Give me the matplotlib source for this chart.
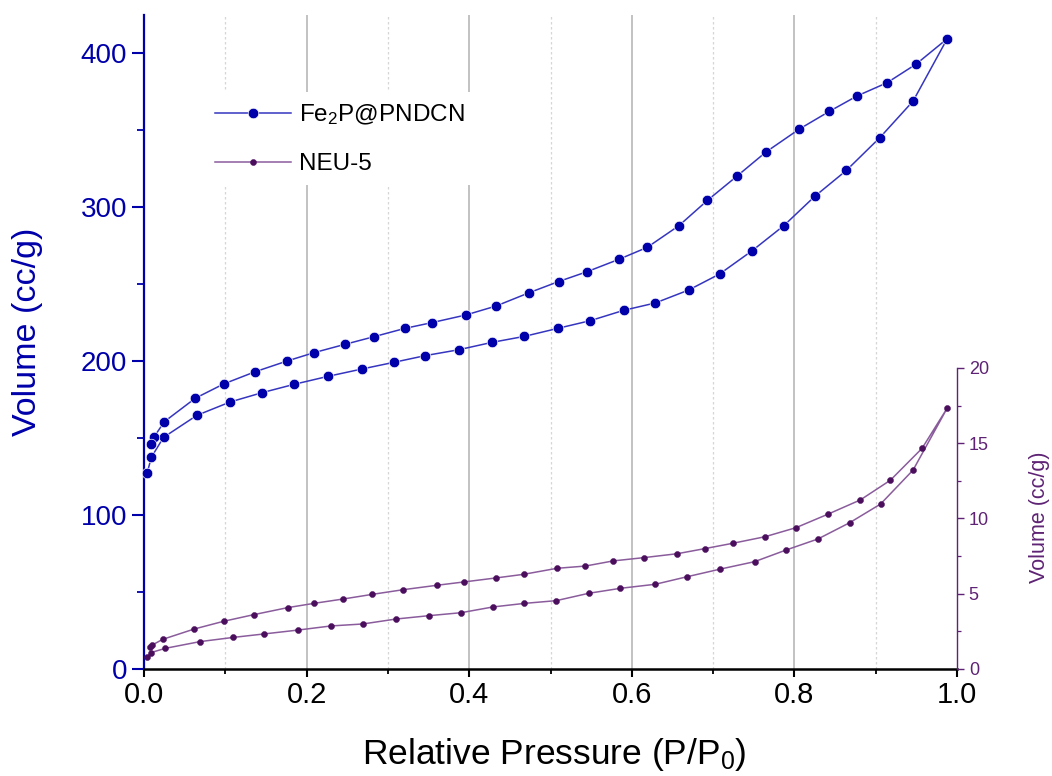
import matplotlib
matplotlib.use("Agg")
import matplotlib.pyplot as plt
from matplotlib.ticker import MultipleLocator, FixedLocator

plt.rcParams['font.family'] = ['Liberation Sans', 'DejaVu Sans']
plt.rcParams['mathtext.fontset'] = 'custom'
plt.rcParams['mathtext.rm'] = 'Liberation Sans'
plt.rcParams['mathtext.it'] = 'Liberation Sans:italic'
plt.rcParams['mathtext.default'] = 'regular'

# ---- data: Fe2P@PNDCN (left axis) ----
fe_ads_x = [0.004, 0.009, 0.024, 0.065, 0.106, 0.145, 0.185, 0.226, 0.268, 0.307,
            0.346, 0.387, 0.428, 0.468, 0.509, 0.549, 0.590, 0.629, 0.670, 0.708,
            0.748, 0.787, 0.825, 0.864, 0.905, 0.946, 0.988]
fe_ads_y = [127.5, 137.5, 150.4, 164.7, 173.4, 179.4, 184.9, 190.0, 194.8, 199.1,
            203.5, 207.3, 212.1, 216.0, 221.2, 226.2, 232.9, 237.7, 246.1, 256.5,
            271.6, 287.9, 306.9, 323.8, 345.0, 368.8, 409.3]
fe_des_x = [0.950, 0.914, 0.877, 0.843, 0.806, 0.765, 0.729, 0.693, 0.658, 0.619,
            0.584, 0.545, 0.510, 0.474, 0.433, 0.396, 0.354, 0.321, 0.283, 0.247,
            0.209, 0.176, 0.136, 0.098, 0.063, 0.025, 0.012, 0.009]
fe_des_y = [392.9, 380.7, 372.1, 362.1, 350.6, 335.7, 319.9, 304.3, 287.9, 273.8,
            266.0, 258.0, 251.6, 244.4, 235.7, 229.9, 224.9, 221.2, 215.8, 210.8,
            205.4, 200.0, 192.9, 185.1, 175.8, 160.6, 150.4, 146.1]

# ---- data: NEU-5 (right axis) ----
neu_ads_x = [0.004, 0.008, 0.026, 0.069, 0.110, 0.148, 0.190, 0.230, 0.269, 0.310,
             0.350, 0.390, 0.429, 0.468, 0.507, 0.547, 0.586, 0.629, 0.668, 0.709,
             0.751, 0.790, 0.829, 0.868, 0.906, 0.946, 0.988]
neu_ads_y = [0.78, 1.08, 1.37, 1.82, 2.10, 2.33, 2.59, 2.86, 2.99, 3.32,
             3.54, 3.74, 4.12, 4.36, 4.54, 5.03, 5.36, 5.63, 6.13, 6.64,
             7.13, 7.91, 8.64, 9.72, 10.96, 13.22, 17.34]
neu_des_x = [0.957, 0.918, 0.881, 0.841, 0.802, 0.764, 0.724, 0.690, 0.656, 0.615,
             0.577, 0.543, 0.508, 0.467, 0.433, 0.393, 0.360, 0.319, 0.281, 0.245,
             0.209, 0.177, 0.135, 0.098, 0.062, 0.023, 0.010, 0.007]
neu_des_y = [14.66, 12.54, 11.23, 10.28, 9.39, 8.79, 8.35, 8.00, 7.66, 7.40,
             7.18, 6.84, 6.69, 6.29, 6.05, 5.78, 5.56, 5.27, 4.96, 4.65,
             4.36, 4.08, 3.61, 3.17, 2.66, 1.97, 1.59, 1.44]

labels = ['Fe$_2$P@PNDCN', 'NEU-5']
xticks = [0.0, 0.2, 0.4, 0.6, 0.8, 1.0]
xminor = [0.1, 0.3, 0.5, 0.7, 0.9]
left_ticks = [0, 100, 200, 300, 400]
right_ticks = [0, 5, 10, 15, 20]

BLUE = '#0000AA'
BLUE_LINE = '#3535C0'
PURP = '#4A0E5C'
PURP_LINE = '#8A5C9C'
PURP_AX = '#5E2374'

fig = plt.figure(figsize=(10.52, 7.76), dpi=100)
ax = fig.add_axes([0.1369, 0.1379, 0.9097 - 0.1369, 0.9807 - 0.1379])
ax2 = ax.twinx()

# vertical grid lines (interior only)
for v in xticks[1:-1]:
    ax.axvline(v, color='#b8b8b8', lw=1.2, ls='-', zorder=0)
for v in xminor:
    ax.axvline(v, color='#d6d6d6', lw=0.9, ls=(0, (2, 2)), zorder=0)

ax.plot(fe_ads_x + fe_des_x, fe_ads_y + fe_des_y, '-o', color=BLUE_LINE, lw=1.1,
        marker='o', ms=7.6, mfc=BLUE, mec='white', mew=0.5, label=labels[0],
        clip_on=False, zorder=3)
ax2.plot(neu_ads_x + neu_des_x, neu_ads_y + neu_des_y, '-o', color=PURP_LINE, lw=1.1,
         marker='o', ms=4.4, mfc=PURP, mec=PURP, mew=0.3, label=labels[1],
         clip_on=False, zorder=3)

# axes limits
ax.set_xlim(0, 1.0)
ax.set_ylim(0, 424.7)

# x axis
ax.set_xticks(xticks)
ax.xaxis.set_minor_locator(FixedLocator(xminor))
ax.set_xticklabels(['%.1f' % v for v in xticks])
ax.tick_params(axis='x', which='major', direction='out', length=6, width=1.5,
               labelsize=21, pad=3, color='black')
ax.tick_params(axis='x', which='minor', direction='out', length=3.5, width=1.3,
               color='black')

# left axis
ax.set_yticks(left_ticks)
ax.yaxis.set_minor_locator(MultipleLocator(50))
ax.tick_params(axis='y', which='major', direction='out', length=8.5, width=1.5,
               labelsize=20, pad=3.5, color=BLUE, labelcolor=BLUE)
ax.tick_params(axis='y', which='minor', direction='out', length=5, width=1.3, color=BLUE)
ax.spines['left'].set_color(BLUE)
ax.spines['left'].set_linewidth(1.6)
ax.spines['bottom'].set_color('black')
ax.spines['bottom'].set_linewidth(1.8)
ax.spines['top'].set_visible(False)
ax.spines['right'].set_visible(False)

# right axis
for s in ['left', 'top', 'bottom']:
    ax2.spines[s].set_visible(False)
ax2.spines['right'].set_color(PURP_AX)
ax2.spines['right'].set_linewidth(1.0)
ax2.spines['right'].set_bounds(0, 20)
ax2.set_ylim(0, 20 * 654 / 301)
ax2.set_yticks(right_ticks)
ax2.yaxis.set_minor_locator(FixedLocator([2.5, 7.5, 12.5, 17.5]))
ax2.tick_params(axis='y', which='major', direction='out', length=5, width=1.0,
                labelsize=13, pad=3.5, color=PURP_AX, labelcolor=PURP_AX)
ax2.tick_params(axis='y', which='minor', direction='out', length=3, width=0.9, color=PURP_AX)

# labels
ax.set_xlabel('Relative Pressure (P/P$_0$)', fontsize=25.5)
ax.xaxis.set_label_coords(0.505, -0.103)
ax.set_ylabel('Volume (cc/g)', fontsize=24.5, color=BLUE)
ax.yaxis.set_label_coords(-0.143, 0.515)
ax.yaxis.label.set_va('center')
ax2.set_ylabel('Volume (cc/g)', fontsize=15.5, color=PURP_AX, rotation=90)
ax2.yaxis.set_label_coords(1.102, 0.232)
ax2.yaxis.label.set_va('center')

# legend
h1, l1 = ax.get_legend_handles_labels()
h2, l2 = ax2.get_legend_handles_labels()
leg = ax2.legend(h1 + h2, l1 + l2, loc='upper left', bbox_to_anchor=(0.075, 0.882),
                 borderaxespad=0, frameon=True, fancybox=False, framealpha=1,
                 edgecolor='none', facecolor='white', fontsize=17.5,
                 handlelength=3.1, handletextpad=0.35, labelspacing=1.07,
                 numpoints=1, borderpad=0.42)

fig.savefig('out.png', dpi=100)
